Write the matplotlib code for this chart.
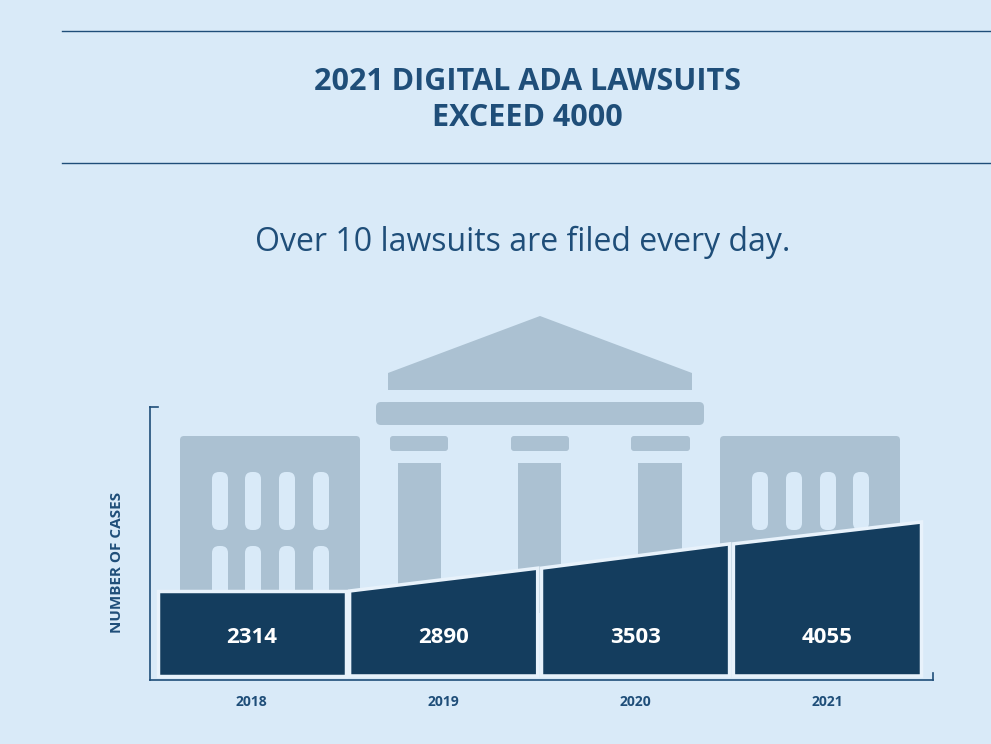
import matplotlib
matplotlib.use("Agg")
import matplotlib.pyplot as plt
from matplotlib.patches import FancyBboxPatch, Polygon, Rectangle

years = ["2018", "2019", "2020", "2021"]
cases = [2314, 2890, 3503, 4055]
title = "2021 DIGITAL ADA LAWSUITS\nEXCEED 4000"
subtitle = "Over 10 lawsuits are filed every day."
ylabel = "NUMBER OF CASES"

BG = "#d9eaf8"; DARK = "#143d5e"; TXT = "#1f4e79"; GREY = "#abc1d2"
FONT = "Open Sans"
W, H = 991, 744
fig = plt.figure(figsize=(W/100, H/100), dpi=100, facecolor=BG)

# background decoration axes in pixel coords
bg = fig.add_axes([0, 0, 1, 1], zorder=0)
bg.set_xlim(0, W); bg.set_ylim(H, 0); bg.axis("off"); bg.set_facecolor(BG)
bg.plot([62, W], [31, 31], color=TXT, lw=1)
bg.plot([62, W], [163, 163], color=TXT, lw=1)
bg.text(527, 100, title, ha="center", va="center", fontsize=22, fontweight="bold",
        color=TXT, family=FONT, linespacing=1.3)
bg.text(523, 242, subtitle, ha="center", va="center", fontsize=23, color=TXT, family=FONT)

def rr(x0, y0, x1, y1, r=4, c=GREY):
    bg.add_patch(FancyBboxPatch((x0, y0), x1-x0, y1-y0, boxstyle=f"round,pad=0,rounding_size={r}",
                                fc=c, ec="none"))
# wings
rr(180, 436, 360, 600)
rr(720, 436, 900, 600)
for xs in ([212, 245, 279, 313], [752, 786, 820, 853]):
    for x in xs:
        rr(x, 472, x+16, 530, r=7, c=BG)
        rr(x, 546, x+16, 600, r=7, c=BG)
# temple
bg.add_patch(Polygon([(388, 390), (388, 373), (540, 316), (692, 373), (692, 390)], closed=True, fc=GREY, ec="none"))
rr(376, 402, 704, 425, r=5)
for x0, x1 in [(390, 448), (511, 569), (631, 690)]:
    rr(x0, 436, x1, 451, r=3)
for x0, x1 in [(398, 441), (518, 561), (638, 682)]:
    bg.add_patch(Rectangle((x0, 463), x1-x0, 150, fc=GREY, ec="none"))

# chart axes
ax = fig.add_axes([150/W, 1-680/H, (933-150)/W, (680-407)/H], zorder=1)
ax.patch.set_alpha(0)
ax.set_xlim(-0.53, 3.55)
ax.set_ylim(68, 6957)
base = 170
hw = 0.49
for i, v in enumerate(cases):
    prev = cases[i-1] if i > 0 else v
    ax.add_patch(Polygon([(i-hw, base), (i-hw, prev), (i+hw, v), (i+hw, base)], closed=True,
                         fc=DARK, ec="#e8f2fb", lw=2.5, zorder=3))
    ax.text(i, 1140, f"{v}", ha="center", va="center", color="white", fontsize=16,
            fontweight="bold", family=FONT, zorder=4)
    ax.text(i, -480, years[i], ha="center", va="center", color=TXT, fontsize=10,
            fontweight="bold", family=FONT, clip_on=False)
for s in ["top", "right"]:
    ax.spines[s].set_visible(False)
for s in ["left", "bottom"]:
    ax.spines[s].set_color(TXT); ax.spines[s].set_linewidth(1.2)
ax.set_xticks([]); ax.set_yticks([])
ax.plot([-0.53, -0.49], [6957, 6957], color=TXT, lw=1.2, clip_on=False)
ax.plot([3.55, 3.55], [68, 250], color=TXT, lw=1.2, clip_on=False)
ax.set_ylabel(ylabel, color=TXT, fontsize=11, fontweight="bold", family=FONT, labelpad=14)
ax.yaxis.set_label_coords(-0.033, 0.43)

fig.savefig("out.png", dpi=100, facecolor=BG)
